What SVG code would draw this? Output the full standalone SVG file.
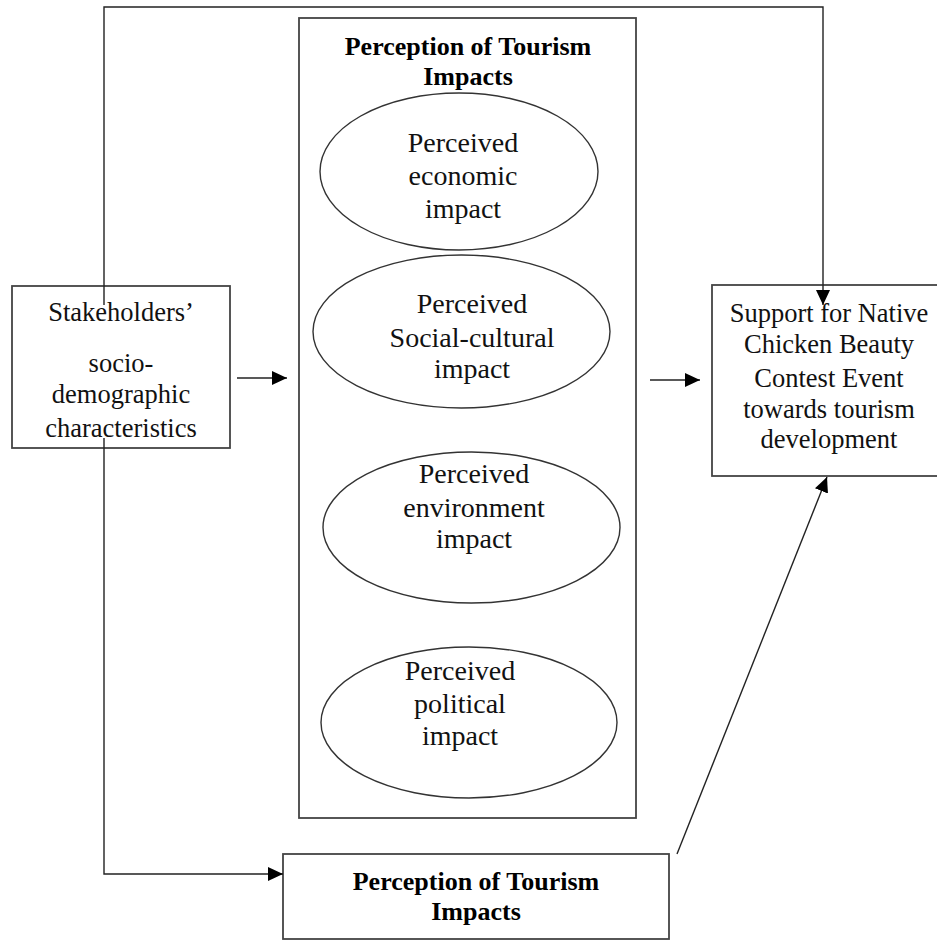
<svg xmlns="http://www.w3.org/2000/svg" width="937" height="940" viewBox="0 0 937 940">
<style>
.box{fill:#fff;stroke:#444;stroke-width:1.8}
.ell{fill:#fff;stroke:#333;stroke-width:1.4}
.t{font-family:"Liberation Serif","Times New Roman",serif;font-size:26.5px;fill:#111;text-anchor:middle}
.te{font-family:"Liberation Serif","Times New Roman",serif;font-size:28px;fill:#111;text-anchor:middle}
.tb{font-family:"Liberation Serif","Times New Roman",serif;font-size:26px;font-weight:bold;fill:#000;text-anchor:middle}
.c{fill:none;stroke:#222;stroke-width:1.4}
</style>
<defs>
<marker id="ah" markerUnits="userSpaceOnUse" markerWidth="16" markerHeight="14" refX="15" refY="7" orient="auto">
<path d="M0,0 L15,7 L0,14 z" fill="#000"/>
</marker>
</defs>
<rect width="937" height="940" fill="#fff"/>
<g id="perception-main">
<rect class="box" x="299" y="18" width="337" height="800"/>
<text class="tb" x="468" y="55">Perception of Tourism</text>
<text class="tb" x="468" y="85">Impacts</text>
</g>
<g id="economic">
<ellipse class="ell" cx="459" cy="171.5" rx="139" ry="78.5"/>
<text class="te" x="463" y="152">Perceived</text>
<text class="te" x="463" y="185">economic</text>
<text class="te" x="463" y="218">impact</text>
</g>
<g id="social">
<ellipse class="ell" cx="461.5" cy="331.5" rx="148.5" ry="76.5"/>
<text class="te" x="472" y="313">Perceived</text>
<text class="te" x="472" y="347">Social-cultural</text>
<text class="te" x="472" y="378">impact</text>
</g>
<g id="environment">
<ellipse class="ell" cx="471.5" cy="527.5" rx="148.5" ry="75.5"/>
<text class="te" x="474" y="483">Perceived</text>
<text class="te" x="474" y="517">environment</text>
<text class="te" x="474" y="548">impact</text>
</g>
<g id="political">
<ellipse class="ell" cx="469" cy="722.5" rx="148" ry="75.5"/>
<text class="te" x="460" y="680">Perceived</text>
<text class="te" x="460" y="713">political</text>
<text class="te" x="460" y="745">impact</text>
</g>
<g id="stakeholders">
<rect class="box" x="12" y="286" width="218" height="162"/>
<text class="t" x="121" y="321">Stakeholders’</text>
<text class="t" x="121" y="372">socio-</text>
<text class="t" x="121" y="403">demographic</text>
<text class="t" x="121" y="437">characteristics</text>
</g>
<g id="support">
<rect class="box" x="712" y="285" width="240" height="191"/>
<text class="t" x="829" y="322">Support for Native</text>
<text class="t" x="829" y="353">Chicken Beauty</text>
<text class="t" x="829" y="387">Contest Event</text>
<text class="t" x="829" y="418">towards tourism</text>
<text class="t" x="829" y="448">development</text>
</g>
<g id="perception-bottom">
<rect class="box" x="283" y="854" width="386" height="85"/>
<text class="tb" x="476" y="890">Perception of Tourism</text>
<text class="tb" x="476" y="920">Impacts</text>
</g>
<g id="connectors">
<polyline class="c" points="104,305 104,7 823,7 823,305" marker-end="url(#ah)"/>
<line class="c" x1="237" y1="378" x2="287" y2="378" marker-end="url(#ah)"/>
<line class="c" x1="650" y1="380" x2="700" y2="380" marker-end="url(#ah)"/>
<polyline class="c" points="104,438 104,874 283,874" marker-end="url(#ah)"/>
<line class="c" x1="677" y1="854" x2="827" y2="477" marker-end="url(#ah)"/>
</g>
</svg>
